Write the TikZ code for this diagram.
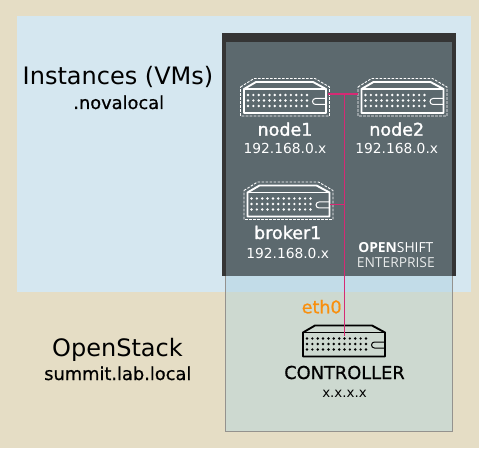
\documentclass[tikz,border=0pt]{standalone}
\usepackage{fontspec}
\setmainfont{DejaVu Sans}
\newfontfamily\boldish[FakeBold=1.5]{DejaVu Sans}
\newfontfamily\slightbold[FakeBold=0.7]{DejaVu Sans}
\newfontfamily\brandfont{Open Sans}
\definecolor{beigebg}{HTML}{E5DDC5}
\definecolor{bluebg}{HTML}{D5E7F0}
\definecolor{greenbox}{HTML}{CDD9D0}
\definecolor{overlap}{HTML}{C2DCE8}
\definecolor{slatebox}{HTML}{5C696E}
\definecolor{darkrim}{HTML}{353535}
\definecolor{linkpink}{HTML}{D62A74}
\definecolor{ethorange}{HTML}{F98F0C}
\tikzset{
  pics/server/.style={code={
    \draw[#1,line width=1.9pt,line join=round] (-41,-8.5) -- (-29,-15.5) -- (28,-15.5) -- (41,-8.5) -- (41,15.5) -- (-41,15.5) -- cycle;
    \draw[#1,line width=1.9pt] (-41,-8.5) -- (41,-8.5);
    \draw[#1,line width=1pt] (41,1) -- (30.5,1) arc[start angle=270,end angle=90,radius=3] -- (41,7);
    \foreach \r in {-2.5,3,8.5}{
      \foreach \c in {0,...,11}{
        \fill[#1] (-37+\c*5.36,\r) circle[radius=1.35];
      }
    }
  }},
  pics/halo/.style={code={
    \draw[white,dash pattern=on 2.6pt off 1.4pt,line width=.9pt] (-44.5,-10.5) -- (-31,-19) -- (30,-19) -- (44.5,-10.5) -- (44.5,18.5) -- (-44.5,18.5) -- cycle;
  }},
  head/.style={anchor=base,font=\boldish\fontsize{17.5}{20}\selectfont,text=white,inner sep=0pt},
  addr/.style={anchor=base,font=\fontsize{13.8}{16}\selectfont,text=white,inner sep=0pt},
  brand/.style={anchor=base,inner sep=0pt,font=\brandfont\fontsize{13.8}{15}\selectfont},
  big/.style={anchor=base,inner sep=0pt,font=\fontsize{24}{28}\selectfont},
  sub/.style={anchor=base,inner sep=0pt,font=\slightbold\fontsize{17.8}{20}\selectfont},
  link/.style={draw=linkpink,line width=1.6pt},
}
\begin{document}
\begin{tikzpicture}[x=1pt,y=-1pt]
\useasboundingbox (0,0) rectangle (479,449);
\fill[white] (0,0) rectangle (479,449);
\fill[beigebg] (0,0) rectangle (479,447.8);
\fill[bluebg] (16.5,15.7) rectangle (471,292.3);
\fill[greenbox] (225.3,292.3) rectangle (452,431.5);
\fill[overlap] (225.3,276) rectangle (452,292.3);
\draw[gray!80!beigebg,line width=.8pt] (225.3,276) -- (225.3,431.5) -- (452,431.5) -- (452,276);
\fill[darkrim] (222,33) rectangle (455.5,276);
\fill[slatebox] (226,42.5) rectangle (452,276);
% servers
\coordinate (n1c) at (285,97.5);
\coordinate (n2c) at (402.5,97.5);
\coordinate (b1c) at (288.5,201);
\coordinate (ctl) at (344,341);
\path (n1c) pic {halo}; \path (n2c) pic {halo}; \path (b1c) pic {halo};
\path (n1c) pic {server=white};
\path (n2c) pic {server=white};
\path (b1c) pic {server=white};
\path (ctl) pic {server=black};
% connectors
\coordinate (n1e) at (328,94.3);
\coordinate (n2w) at (358,94.3);
\coordinate (bus) at (344.3,94.3);
\coordinate (b1e) at (330,204.3);
\coordinate (bbus) at (344.3,204.3);
\coordinate (ctltop) at (344.3,335.7);
\draw[link,line width=2.2pt] (n1e) -- (n2w);
\draw[link] (bus) -- (ctltop);
\draw[link,line width=.7pt] (b1e) -- (bbus);
% labels
\node[head] (n1) at (285,135.7) {node1};
\node[head] (n2) at (396.7,135.7) {node2};
\node[addr] (a1) at (285,154) {192.168.0.x};
\node[addr] (a2) at (396.7,154) {192.168.0.x};
\node[head] (b1) at (287.7,239) {broker1};
\node[addr] (a3) at (287.7,258.3) {192.168.0.x};
\node[brand,text=white] (os) at (395.8,252.3) {\textbf{OPEN}SHIFT};
\node[brand,text=white!85!slatebox] (en) at (395.8,267) {ENTERPRISE};
\node[anchor=base,inner sep=0pt,text=ethorange,font=\slightbold\fontsize{17.5}{20}\selectfont] (eth) at (321.7,313.3) {eth0};
\node[anchor=base,inner sep=0pt,font=\slightbold\fontsize{17.8}{20}\selectfont] (c) at (344.5,379) {CONTROLLER};
\node[anchor=base,inner sep=0pt,font=\fontsize{13.4}{16}\selectfont] (x) at (344.5,397.3) {x.x.x.x};
\node[big] (vm) at (118,85) {Instances (VMs)};
\node[sub] (nl) at (118.7,109) {.novalocal};
\node[big] (st) at (117.5,356) {OpenStack};
\node[sub] (sl) at (117.8,380) {summit.lab.local};
\end{tikzpicture}
\end{document}
